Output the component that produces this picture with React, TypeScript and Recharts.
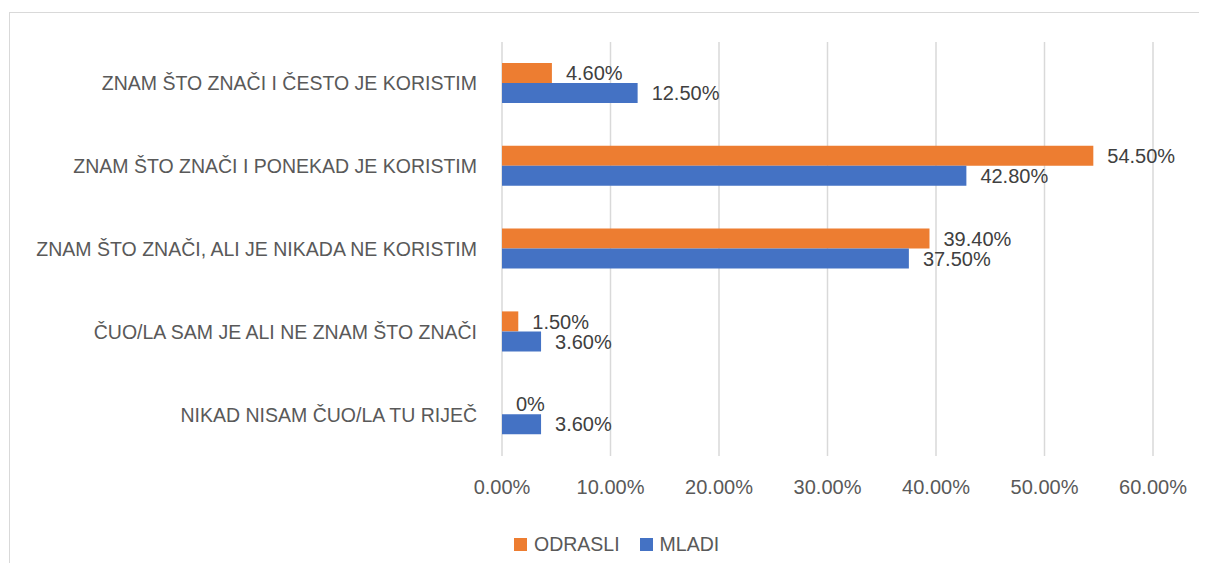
import React from "react";
import { BarChart, Bar, XAxis, YAxis, CartesianGrid, LabelList } from "recharts";

const categories = [
  "ZNAM ŠTO ZNAČI I ČESTO JE KORISTIM",
  "ZNAM ŠTO ZNAČI I PONEKAD JE KORISTIM",
  "ZNAM ŠTO ZNAČI, ALI JE NIKADA NE KORISTIM",
  "ČUO/LA SAM JE ALI NE ZNAM ŠTO ZNAČI",
  "NIKAD NISAM ČUO/LA TU RIJEČ",
];
const odrasli = [4.6, 54.5, 39.4, 1.5, 0];
const mladi = [12.5, 42.8, 37.5, 3.6, 3.6];
const xTicks = [0, 10, 20, 30, 40, 50, 60];

const data = categories.map((name, i) => ({ name, odrasli: odrasli[i], mladi: mladi[i] }));

const FONT = "'Liberation Sans', Arial, sans-serif";
const ORANGE = "#ED7D31";
const BLUE = "#4472C4";

// data labels: Excel shows a bare "0%" for zero
const pct = (v: any) => (Number(v) === 0 ? "0%" : Number(v).toFixed(2) + "%");
const tickPct = (v: any) => Number(v).toFixed(2) + "%";

export default function App() {
  return (
    <div
      style={{
        position: "relative",
        left: 1,
        top: 4,
        width: 1198,
        height: 555,
        boxSizing: "border-box",
        borderTop: "1px solid #d9d9d9",
        borderLeft: "1px solid #d9d9d9",
        fontFamily: FONT,
        background: "#fff",
      }}
    >
      <BarChart
        width={1197}
        height={554}
        data={data}
        layout="vertical"
        barGap={0}
        margin={{ top: 29, right: 54, left: 0, bottom: 71 }}
      >
        <CartesianGrid horizontal={false} stroke="#d9d9d9" strokeWidth={1.5} />
        <XAxis
          type="number"
          domain={[0, 60]}
          ticks={xTicks}
          tickFormatter={tickPct}
          axisLine={false}
          tickLine={false}
          tickSize={0}
          tickMargin={24}
          height={40}
          tick={{ fill: "#595959", fontSize: 20, fontFamily: FONT }}
        />
        <YAxis
          type="category"
          dataKey="name"
          width={492}
          axisLine={false}
          tickLine={false}
          tickSize={0}
          tickMargin={25}
          tick={{ fill: "#595959", fontSize: 19.5, fontFamily: FONT }}
        />
        <Bar dataKey="odrasli" name="ODRASLI" fill={ORANGE} barSize={20} minPointSize={0.01} isAnimationActive={false}>
          <LabelList dataKey="odrasli" position="right" offset={14} formatter={pct} fill="#404040" fontSize={20} fontFamily={FONT} />
        </Bar>
        <Bar dataKey="mladi" name="MLADI" fill={BLUE} barSize={20} isAnimationActive={false}>
          <LabelList dataKey="mladi" position="right" offset={14} formatter={pct} fill="#404040" fontSize={20} fontFamily={FONT} />
        </Bar>
      </BarChart>
      <div
        style={{
          position: "absolute",
          left: 504,
          top: 521,
          display: "flex",
          alignItems: "center",
          fontSize: 19.5,
          color: "#595959",
          lineHeight: "20px",
        }}
      >
        <span style={{ width: 13, height: 13, background: ORANGE, marginRight: 7 }} />
        <span style={{ marginRight: 20 }}>ODRASLI</span>
        <span style={{ width: 13, height: 13, background: BLUE, marginRight: 7 }} />
        <span>MLADI</span>
      </div>
    </div>
  );
}
